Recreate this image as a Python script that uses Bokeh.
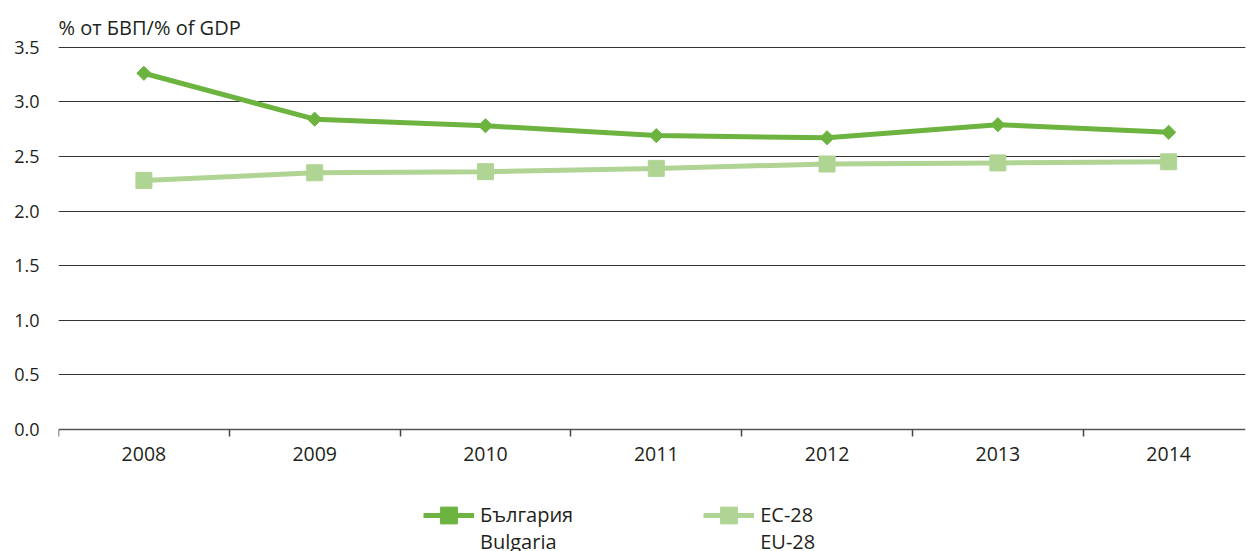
import math
from bokeh.plotting import figure
from bokeh.models import Range1d, FixedTicker, Legend, LegendItem, NumeralTickFormatter
from bokeh.embed import file_html
from bokeh.resources import INLINE

years = ["2008", "2009", "2010", "2011", "2012", "2013", "2014"]
bulgaria = [3.26, 2.84, 2.78, 2.69, 2.67, 2.79, 2.72]
eu28 = [2.28, 2.35, 2.36, 2.39, 2.43, 2.44, 2.45]
y_ticks = [0.0, 0.5, 1.0, 1.5, 2.0, 2.5, 3.0, 3.5]

# a blank first line keeps the legend glyph level with the first label line
label_bg = " \nБългария\nBulgaria"
label_eu = " \nЕС-28\nEU-28"
title_text = "% от БВП/% of GDP"

DARK = "#6cb33f"
LIGHT = "#b0d494"
FONT = "Open Sans"
TXT = "#231f20"

xs = list(range(len(years)))

p = figure(width=1247, height=551, output_backend="svg", toolbar_location=None,
           x_range=Range1d(-0.5, 6.45), y_range=Range1d(-1.115, 3.505),
           min_border_left=58, min_border_right=2, min_border_top=46, min_border_bottom=0)

p.title.text = title_text
p.title.text_font = FONT
p.title.text_font_size = "20px"
p.title.text_font_style = "normal"
p.title.text_color = TXT
p.title.align = "left"
p.title.offset = 0
p.title.standoff = 12

p.outline_line_color = None
p.background_fill_color = "white"
p.border_fill_color = "white"

# x axis, pinned at y = 0 inside the frame
p.xaxis.fixed_location = 0
p.xaxis.ticker = FixedTicker(ticks=xs, minor_ticks=[i - 0.5 for i in xs])
p.xaxis.major_label_overrides = {i: y for i, y in zip(xs, years)}
p.xaxis.major_tick_out = 0
p.xaxis.major_tick_in = 0
p.xaxis.minor_tick_out = 7
p.xaxis.minor_tick_in = 0
p.xaxis.minor_tick_line_color = "#444444"
p.xaxis.minor_tick_line_width = 1.5
p.xaxis.axis_line_color = "#555555"
p.xaxis.axis_line_width = 1.5
p.xaxis.major_label_text_font = FONT
p.xaxis.major_label_text_font_size = "19.5px"
p.xaxis.major_label_text_color = TXT
p.xaxis.major_label_standoff = 10

# y axis
p.yaxis.ticker = FixedTicker(ticks=y_ticks)
p.yaxis.formatter = NumeralTickFormatter(format="0.0")
p.yaxis.axis_line_color = None
p.yaxis.major_tick_line_color = None
p.yaxis.minor_tick_line_color = None
p.yaxis.major_label_text_font = FONT
p.yaxis.major_label_text_font_size = "18px"
p.yaxis.major_label_text_color = TXT
p.yaxis.major_label_standoff = 13

p.xgrid.grid_line_color = None
p.ygrid.ticker = FixedTicker(ticks=y_ticks[1:])
p.ygrid.grid_line_color = "#333333"
p.ygrid.grid_line_width = 1

l1 = p.line(xs, bulgaria, line_color=DARK, line_width=5)
m1 = p.scatter(xs, bulgaria, marker="square", angle=math.pi / 4, size=10,
               fill_color=DARK, line_color=DARK)
l2 = p.line(xs, eu28, line_color=LIGHT, line_width=5)
m2 = p.scatter(xs, eu28, marker="square", size=16, fill_color=LIGHT, line_color=LIGHT)

legend = Legend(items=[LegendItem(label=label_bg, renderers=[l1, m1]),
                       LegendItem(label=label_eu, renderers=[l2, m2])],
                orientation="horizontal", location=(365, -4),
                border_line_color=None, background_fill_alpha=0,
                label_text_font=FONT, label_text_font_size="20px", label_text_color=TXT,
                glyph_width=51, glyph_height=42, label_height=20,
                label_standoff=6, spacing=130, padding=0, margin=0)
p.add_layout(legend, "center")

open("out.html", "w").write(file_html(p, INLINE))
